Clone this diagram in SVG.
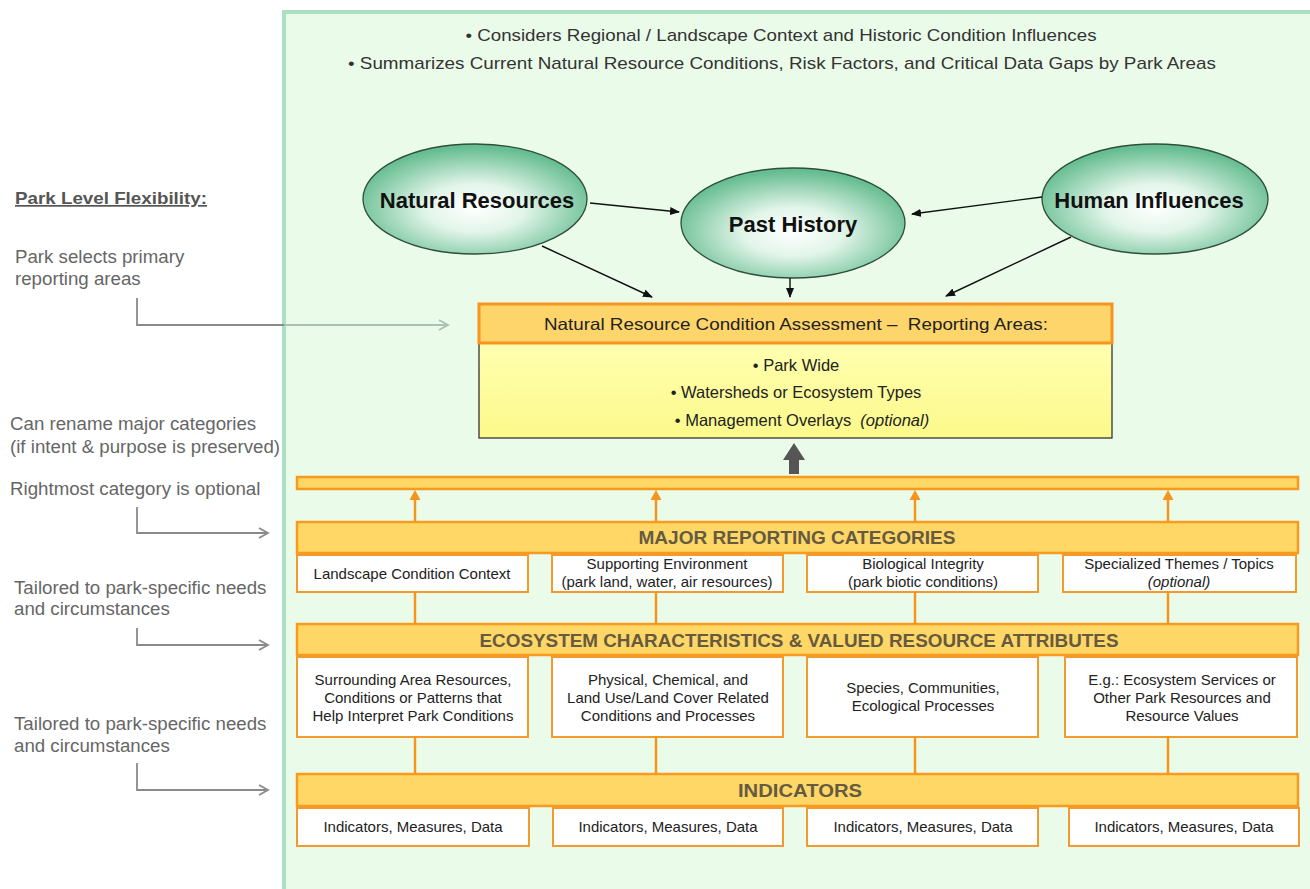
<svg xmlns="http://www.w3.org/2000/svg" width="1310" height="889" viewBox="0 0 1310 889">
<defs>
<radialGradient id="eg" cx="50%" cy="58%" r="55%">
<stop offset="0%" stop-color="#ffffff"/>
<stop offset="40%" stop-color="#e2f5e9"/>
<stop offset="100%" stop-color="#66bd91"/>
</radialGradient>
<linearGradient id="yb" x1="0" y1="0" x2="0" y2="1">
<stop offset="0%" stop-color="#ffffb0"/>
<stop offset="100%" stop-color="#fcf98a"/>
</linearGradient>
<marker id="ab" markerWidth="10" markerHeight="8" refX="9" refY="4" orient="auto" markerUnits="userSpaceOnUse">
<path d="M0,0 L10,4 L0,8 Z" fill="#111"/>
</marker>
<marker id="ag" markerWidth="12" markerHeight="12" refX="10" refY="6" orient="auto" markerUnits="userSpaceOnUse">
<path d="M1,1 L10,6 L1,11" fill="none" stroke="#8a8a8a" stroke-width="1.8"/>
</marker>
<style>
.sans{font-family:"Liberation Sans",Arial,sans-serif}
.side{font-family:"Liberation Sans",Arial,sans-serif;font-size:18.7px;fill:#666}
.top{font-family:"Liberation Sans",Arial,sans-serif;font-size:17px;fill:#333}
.ell{fill:url(#eg);stroke:#2e4e3e;stroke-width:1.3}
.et{font-family:"Liberation Sans",Arial,sans-serif;font-size:22px;font-weight:bold;fill:#111;text-anchor:middle}
.bar{fill:#fed766;stroke:#f79a1e;stroke-width:2.5}
.bt{font-family:"Liberation Sans",Arial,sans-serif;font-size:18px;font-weight:bold;fill:#665a40;text-anchor:middle}
.sb{fill:#ffffff;stroke:#f39a2e;stroke-width:2}
.st{font-family:"Liberation Sans",Arial,sans-serif;font-size:15px;fill:#222;text-anchor:middle}
.bl{stroke:#111;stroke-width:1.4;fill:none;marker-end:url(#ab)}
.ol{stroke:#f7941d;stroke-width:2.5;fill:none}
.gl{stroke:#8a8a8a;stroke-width:1.8;fill:none;marker-end:url(#ag)}
.yt{font-family:"Liberation Sans",Arial,sans-serif;font-size:16.5px;fill:#222;text-anchor:middle}
</style>
</defs>
<rect width="1310" height="889" fill="#ffffff"/>
<rect id="panel" x="284" y="12" width="1040" height="890" fill="#ebfbea" stroke="#ade0c3" stroke-width="4"/>

<g id="toptext">
<text class="top" x="781" y="41" text-anchor="middle" textLength="631" lengthAdjust="spacingAndGlyphs">• Considers Regional / Landscape Context and Historic Condition Influences</text>
<text class="top" x="782" y="69" text-anchor="middle" textLength="868" lengthAdjust="spacingAndGlyphs">• Summarizes Current Natural Resource Conditions, Risk Factors, and Critical Data Gaps by Park Areas</text>
</g>

<g id="sidenotes">
<text class="sans" x="15" y="204" font-size="17" font-weight="bold" fill="#555" text-decoration="underline" textLength="192" lengthAdjust="spacingAndGlyphs">Park Level Flexibility:</text>
<text class="side" x="15" y="263">Park selects primary</text>
<text class="side" x="15" y="285">reporting areas</text>
<text class="side" x="10" y="430">Can rename major categories</text>
<text class="side" x="10" y="453">(if intent &amp; purpose is preserved)</text>
<text class="side" x="10" y="495">Rightmost category is optional</text>
<text class="side" x="14" y="594">Tailored to park-specific needs</text>
<text class="side" x="14" y="615">and circumstances</text>
<text class="side" x="14" y="730">Tailored to park-specific needs</text>
<text class="side" x="14" y="752">and circumstances</text>
</g>

<g id="natural-resources">
<ellipse class="ell" cx="475" cy="199" rx="112" ry="55"/>
<text class="et" x="477" y="208">Natural Resources</text>
</g>
<g id="past-history">
<ellipse class="ell" cx="793" cy="223" rx="112" ry="55"/>
<text class="et" x="793" y="232">Past History</text>
</g>
<g id="human-influences">
<ellipse class="ell" cx="1155" cy="199" rx="113" ry="55"/>
<text class="et" x="1149" y="208">Human Influences</text>
</g>

<g id="nrca-box">
<rect x="479" y="343" width="633" height="95" fill="url(#yb)" stroke="#333" stroke-width="1.3"/>
<rect x="479" y="304" width="633" height="39" fill="#fdd56a" stroke="#f7941d" stroke-width="3"/>
<text class="yt" x="796" y="330" textLength="504" lengthAdjust="spacingAndGlyphs">Natural Resource Condition Assessment –&#160; Reporting Areas:</text>
<text class="yt" x="796" y="371">• Park Wide</text>
<text class="yt" x="796" y="398">• Watersheds or Ecosystem Types</text>
<text class="yt" x="802" y="426">• Management Overlays&#160;&#160;<tspan font-style="italic">(optional)</tspan></text>
</g>

<g id="collector-bar">
<rect class="bar" x="297" y="477" width="1001" height="12"/>
</g>

<g id="major-categories">
<rect class="bar" x="297" y="522" width="1001" height="31"/>
<text class="bt" x="797" y="544" textLength="317" lengthAdjust="spacingAndGlyphs">MAJOR REPORTING CATEGORIES</text>
<rect class="sb" x="297" y="555" width="231" height="37"/>
<text class="st" x="412" y="579">Landscape Condition Context</text>
<rect class="sb" x="552" y="555" width="231" height="37"/>
<text class="st" x="667" y="569">Supporting Environment</text>
<text class="st" x="667" y="587">(park land, water, air resources)</text>
<rect class="sb" x="807" y="555" width="231" height="37"/>
<text class="st" x="923" y="569">Biological Integrity</text>
<text class="st" x="923" y="587">(park biotic conditions)</text>
<rect class="sb" x="1063" y="555" width="233" height="37"/>
<text class="st" x="1179" y="569">Specialized Themes / Topics</text>
<text class="st" x="1179" y="587" font-style="italic" fill="#777">(optional)</text>
</g>

<g id="ecosystem-characteristics">
<rect class="bar" x="297" y="624" width="1001" height="31"/>
<text class="bt" x="799" y="647" textLength="639" lengthAdjust="spacingAndGlyphs">ECOSYSTEM CHARACTERISTICS &amp; VALUED RESOURCE ATTRIBUTES</text>
<rect class="sb" x="297" y="657" width="231" height="80"/>
<text class="st" x="413" y="685">Surrounding Area Resources,</text>
<text class="st" x="413" y="703">Conditions or Patterns that</text>
<text class="st" x="413" y="721">Help Interpret Park Conditions</text>
<rect class="sb" x="552" y="657" width="231" height="80"/>
<text class="st" x="668" y="685">Physical, Chemical, and</text>
<text class="st" x="668" y="703">Land Use/Land Cover Related</text>
<text class="st" x="668" y="721">Conditions and Processes</text>
<rect class="sb" x="807" y="657" width="231" height="80"/>
<text class="st" x="923" y="693">Species, Communities,</text>
<text class="st" x="923" y="711">Ecological Processes</text>
<rect class="sb" x="1065" y="657" width="232" height="80"/>
<text class="st" x="1182" y="685">E.g.: Ecosystem Services or</text>
<text class="st" x="1182" y="703">Other Park Resources and</text>
<text class="st" x="1182" y="721">Resource Values</text>
</g>

<g id="indicators">
<rect class="bar" x="297" y="774" width="1001" height="32"/>
<text class="bt" x="800" y="797" textLength="124" lengthAdjust="spacingAndGlyphs">INDICATORS</text>
<rect class="sb" x="297" y="808" width="232" height="38"/>
<text class="st" x="413" y="832">Indicators, Measures, Data</text>
<rect class="sb" x="553" y="808" width="230" height="38"/>
<text class="st" x="668" y="832">Indicators, Measures, Data</text>
<rect class="sb" x="807" y="808" width="231" height="38"/>
<text class="st" x="923" y="832">Indicators, Measures, Data</text>
<rect class="sb" x="1069" y="808" width="230" height="38"/>
<text class="st" x="1184" y="832">Indicators, Measures, Data</text>
</g>

<g id="connectors">
<line class="bl" x1="590" y1="203" x2="679" y2="212"/>
<line class="bl" x1="1042" y1="197" x2="912" y2="214"/>
<line class="bl" x1="542" y1="246" x2="652" y2="297"/>
<line class="bl" x1="790" y1="278" x2="790" y2="297"/>
<line class="bl" x1="1071" y1="237" x2="946" y2="296"/>
<polygon points="794,443 783,460 789,460 789,474 799,474 799,460 805,460" fill="#555"/>
<line class="ol" x1="415" y1="521" x2="415" y2="498"/>
<path d="M415,490 L420.5,500 L409.5,500 Z" fill="#f7941d"/>
<line class="ol" x1="656" y1="521" x2="656" y2="498"/>
<path d="M656,490 L661.5,500 L650.5,500 Z" fill="#f7941d"/>
<line class="ol" x1="915" y1="521" x2="915" y2="498"/>
<path d="M915,490 L920.5,500 L909.5,500 Z" fill="#f7941d"/>
<line class="ol" x1="1168" y1="521" x2="1168" y2="498"/>
<path d="M1168,490 L1173.5,500 L1162.5,500 Z" fill="#f7941d"/>
<line class="ol" x1="415" y1="592" x2="415" y2="624"/>
<line class="ol" x1="656" y1="592" x2="656" y2="624"/>
<line class="ol" x1="915" y1="592" x2="915" y2="624"/>
<line class="ol" x1="1168" y1="592" x2="1168" y2="624"/>
<line class="ol" x1="415" y1="737" x2="415" y2="774"/>
<line class="ol" x1="656" y1="737" x2="656" y2="774"/>
<line class="ol" x1="915" y1="737" x2="915" y2="774"/>
<line class="ol" x1="1168" y1="737" x2="1168" y2="774"/>
<path d="M137,298 V325 H284" stroke="#8a8a8a" stroke-width="1.8" fill="none"/>
<path d="M284,325 H448" stroke="#aac0b4" stroke-width="1.8" fill="none"/>
<path d="M439,320 L448,325 L439,330" stroke="#aac0b4" stroke-width="1.8" fill="none"/>
<path class="gl" d="M137,507 V533 H268"/>
<path class="gl" d="M137,628 V645 H268"/>
<path class="gl" d="M137,763 V790 H268"/>
</g>
</svg>
